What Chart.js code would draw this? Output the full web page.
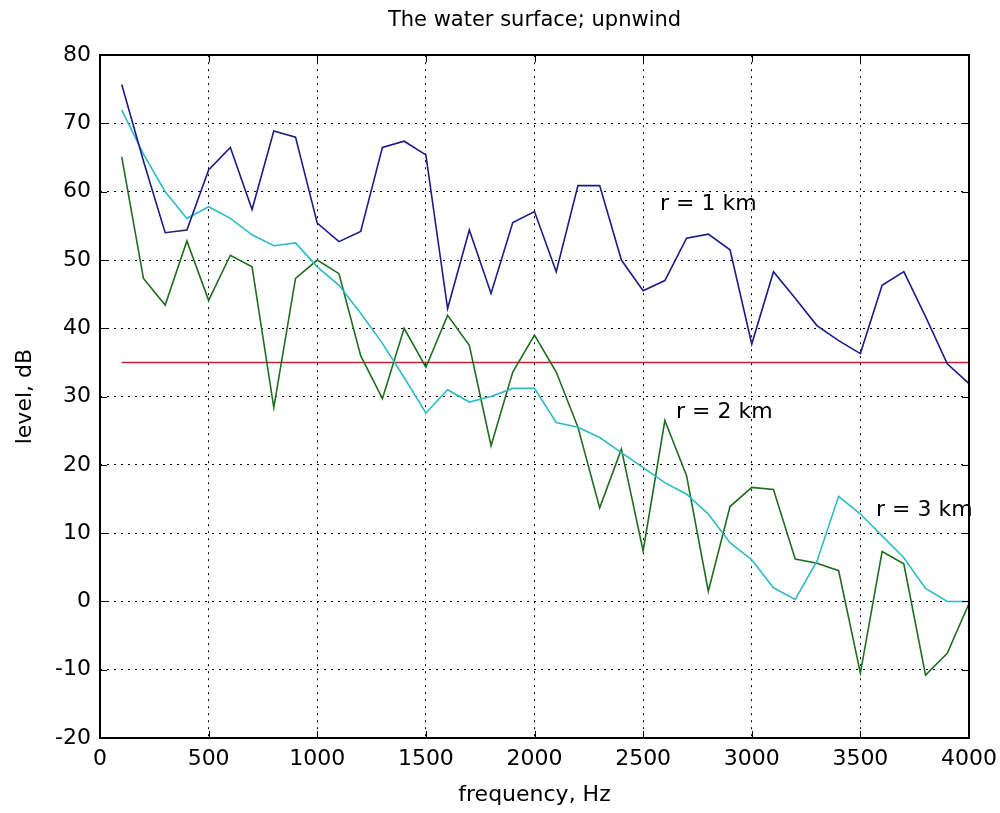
<!DOCTYPE html>
<html>
<head>
<meta charset="utf-8">
<title>The water surface; upnwind</title>
<script src="https://cdn.jsdelivr.net/npm/chart.js@4.4.1/dist/chart.umd.min.js"></script>
<style>
  html, body { margin: 0; padding: 0; background: #fff; }
  #wrap { width: 1000px; height: 813px; }
</style>
</head>
<body>
<div id="wrap"><canvas id="myChart"></canvas></div>
<script>
// frequency points, Hz
const freq = [100, 200, 300, 400, 500, 600, 700, 800, 900, 1000,
              1100, 1200, 1300, 1400, 1500, 1600, 1700, 1800, 1900, 2000,
              2100, 2200, 2300, 2400, 2500, 2600, 2700, 2800, 2900, 3000,
              3100, 3200, 3300, 3400, 3500, 3600, 3700, 3800, 3900, 4000];

// level, dB
const levelR1 = [75.7, 64.5, 54.0, 54.4, 63.2, 66.5, 57.4, 68.9, 68.0, 55.4,
                 52.7, 54.2, 66.5, 67.4, 65.4, 42.9, 54.4, 45.1, 55.5, 57.1,
                 48.3, 60.9, 60.9, 50.0, 45.5, 47.0, 53.2, 53.8, 51.5, 37.7,
                 48.3, 44.4, 40.4, 38.2, 36.3, 46.3, 48.3, 41.7, 34.8, 31.9];
const levelR2 = [65.1, 47.3, 43.4, 52.8, 44.1, 50.7, 49.0, 28.4, 47.3, 50.0,
                 48.0, 36.0, 29.7, 40.0, 34.3, 41.9, 37.5, 22.8, 33.6, 39.0,
                 33.6, 25.5, 13.7, 22.3, 7.4, 26.5, 18.4, 1.5, 13.9, 16.7,
                 16.4, 6.2, 5.6, 4.5, -10.5, 7.3, 5.5, -10.8, -7.6, -0.3];
const levelR3 = [72.0, 65.5, 60.0, 56.1, 57.8, 56.1, 53.7, 52.1, 52.5, 49.0,
                 46.3, 42.2, 37.8, 32.8, 27.6, 31.0, 29.2, 30.0, 31.2, 31.2,
                 26.2, 25.5, 24.0, 21.8, 19.6, 17.4, 15.7, 12.8, 8.6, 6.1,
                 2.0, 0.3, 5.9, 15.4, 12.8, 9.6, 6.4, 1.9, 0.0, 0.0];

// reference level
const refFreq = [100, 4000];
const refLevel = [35, 35];

const xTicks = [0, 500, 1000, 1500, 2000, 2500, 3000, 3500, 4000];
const yTicks = [-20, -10, 0, 10, 20, 30, 40, 50, 60, 70, 80];

// curve names written on the plot
const curveNames = ['r = 1 km', 'r = 2 km', 'r = 3 km'];
const nameFreq = [2578, 2651, 3572];
const nameLevel = [58.2, 27.7, 13.4];

const toXY = (xs, ys) => xs.map((v, i) => ({ x: v, y: ys[i] }));

Chart.defaults.font.family = '"DejaVu Sans", sans-serif';
Chart.defaults.font.size = 22;
Chart.defaults.color = '#000';

// matlab style frame with inward ticks + curve names
const matlabBox = {
    id: 'matlabBox',
    afterDraw(chart) {
        const { ctx, chartArea: a, scales: { x, y } } = chart;
        ctx.save();
        ctx.strokeStyle = '#000';
        ctx.lineWidth = 1;
        ctx.beginPath();
        x.ticks.forEach(t => {
            const px = Math.round(x.getPixelForValue(t.value)) + 0.5;
            ctx.moveTo(px, a.bottom); ctx.lineTo(px, a.bottom - 7);
            ctx.moveTo(px, a.top); ctx.lineTo(px, a.top + 7);
        });
        y.ticks.forEach(t => {
            const py = Math.round(y.getPixelForValue(t.value)) + 0.5;
            ctx.moveTo(a.left, py); ctx.lineTo(a.left + 7, py);
            ctx.moveTo(a.right, py); ctx.lineTo(a.right - 7, py);
        });
        ctx.stroke();
        ctx.lineWidth = 2;
        ctx.strokeRect(Math.round(a.left), Math.round(a.top),
                       Math.round(a.right - a.left), Math.round(a.bottom - a.top));

        ctx.fillStyle = '#000';
        ctx.font = '22px "DejaVu Sans"';
        ctx.textAlign = 'left';
        ctx.textBaseline = 'middle';
        curveNames.forEach((s, i) => {
            ctx.fillText(s, x.getPixelForValue(nameFreq[i]), y.getPixelForValue(nameLevel[i]));
        });
        ctx.restore();
    }
};

const lineSet = (data, color) => ({
    data: data,
    borderColor: color,
    borderWidth: 1.6,
    pointRadius: 0,
    tension: 0,
    fill: false
});

new Chart(document.getElementById('myChart'), {
    type: 'line',
    data: {
        datasets: [
            lineSet(toXY(freq, levelR1), '#1c1c86'),
            lineSet(toXY(freq, levelR3), '#2cbcc4'),
            lineSet(toXY(freq, levelR2), '#1f6e1f'),
            lineSet(toXY(refFreq, refLevel), '#b82a2a')
        ]
    },
    options: {
        responsive: true,
        maintainAspectRatio: false,
        animation: false,
        layout: { padding: { top: 0, right: 31, bottom: 0, left: 0 } },
        scales: {
            x: {
                type: 'linear',
                min: 0,
                max: 4000,
                afterBuildTicks: s => { s.ticks = xTicks.map(v => ({ value: v })); },
                afterFit: s => { s.height = 75; s.paddingRight = 0; s.paddingLeft = 0; },
                ticks: { padding: 8, maxRotation: 0, autoSkip: false, callback: v => String(v) },
                grid: { color: '#000', lineWidth: 1, drawTicks: false },
                border: { display: false, dash: [2, 5] },
                title: { display: true, text: 'frequency, Hz', padding: { top: 0, bottom: 5 } }
            },
            y: {
                min: -20,
                max: 80,
                afterBuildTicks: s => { s.ticks = yTicks.map(v => ({ value: v })); },
                afterFit: s => { s.width = 100; },
                ticks: { padding: 9, autoSkip: false, callback: v => String(v) },
                grid: { color: '#000', lineWidth: 1, drawTicks: false },
                border: { display: false, dash: [2, 5] },
                title: { display: true, text: 'level, dB', padding: { top: 12, bottom: 0 } }
            }
        },
        plugins: {
            legend: { display: false },
            tooltip: { enabled: false },
            title: {
                display: true,
                fullSize: false,
                text: 'The water surface; upnwind',
                font: { size: 21, weight: 'normal' },
                color: '#000',
                padding: { top: 8, bottom: 22 }
            }
        }
    },
    plugins: [matlabBox]
});
</script>
</body>
</html>
